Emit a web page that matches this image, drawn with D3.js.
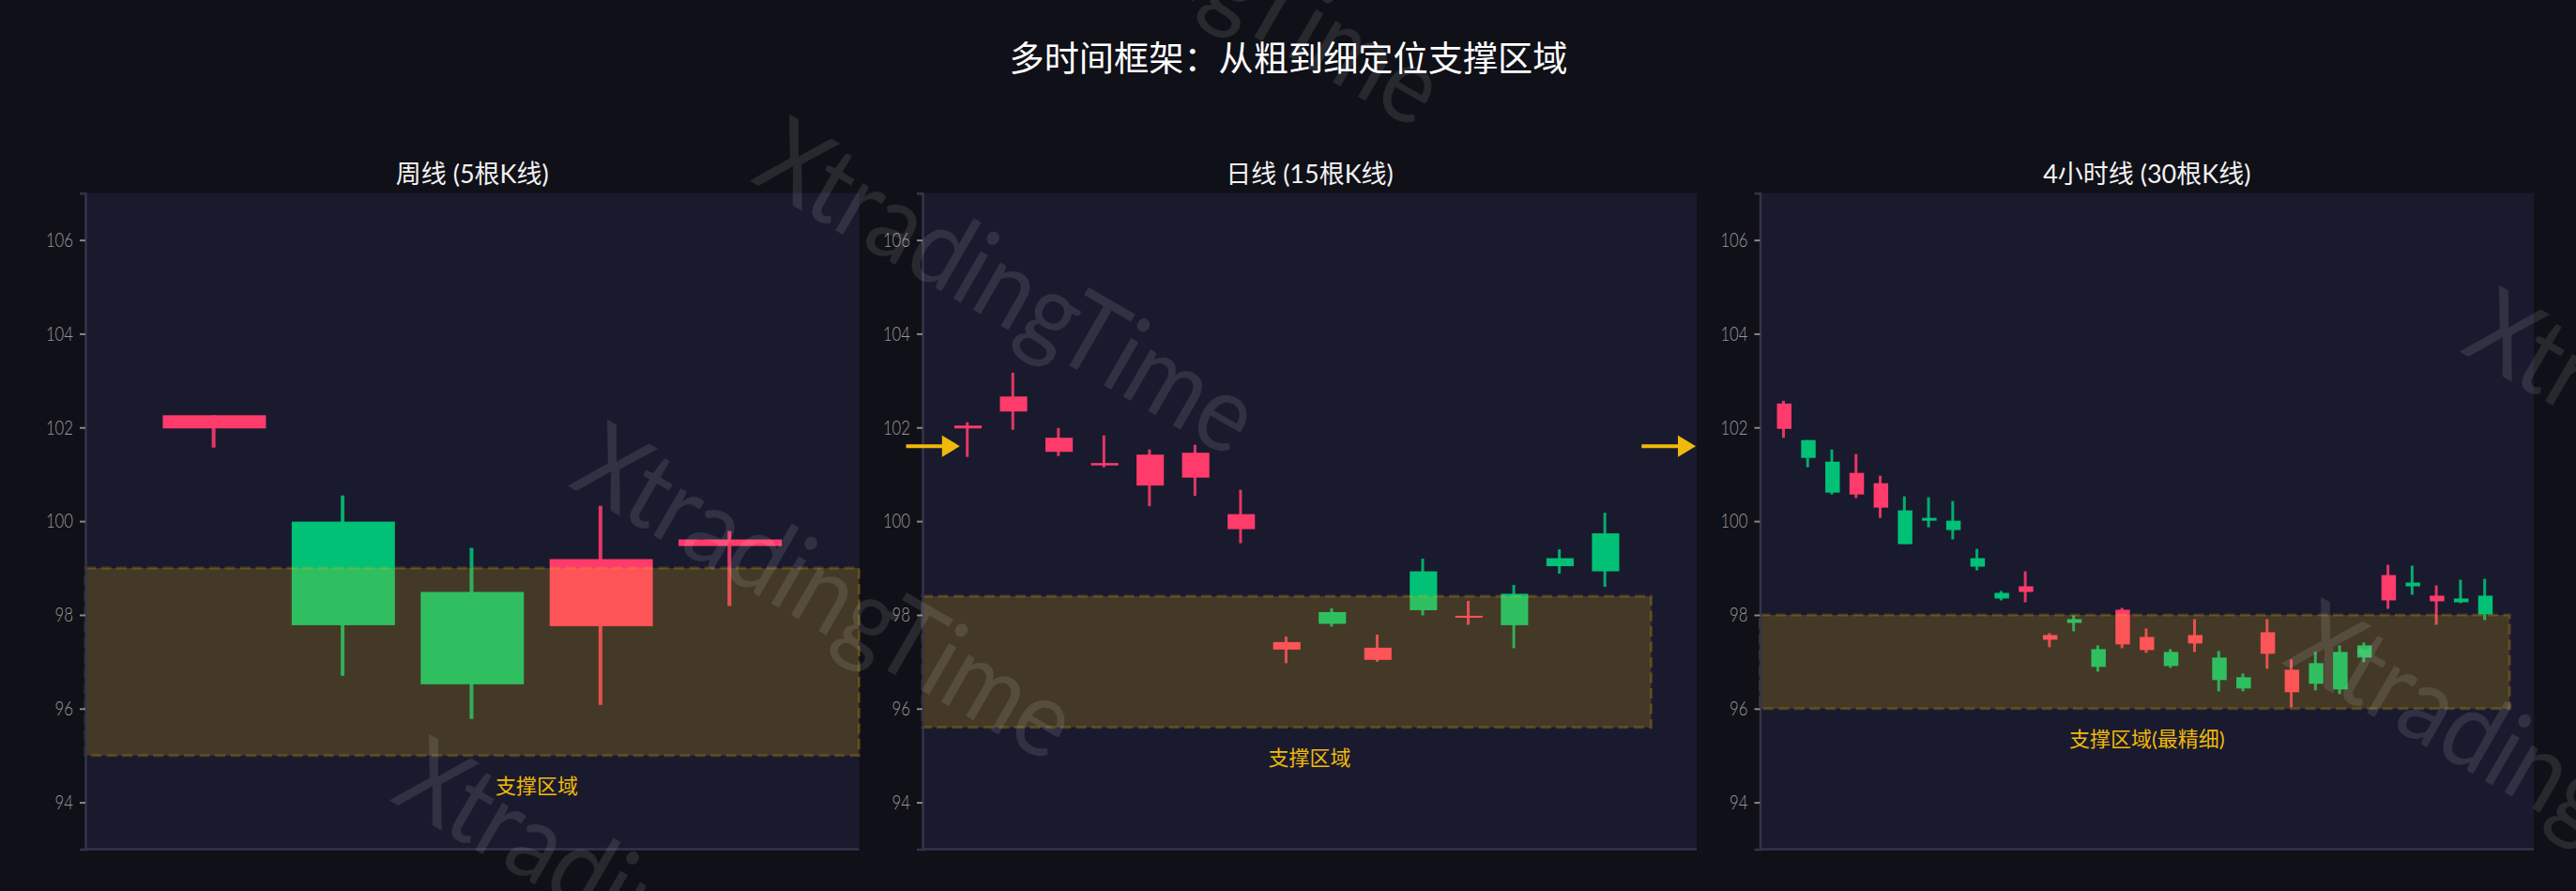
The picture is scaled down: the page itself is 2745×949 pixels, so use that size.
<!DOCTYPE html>
<html><head><meta charset="utf-8">
<script src="https://cdn.jsdelivr.net/npm/d3@7/dist/d3.min.js"></script>
<style>html,body{margin:0;padding:0;background:#101018;overflow:hidden}
text{font-family:"Lato","Noto Sans CJK SC",sans-serif}</style></head><body>
<script>
const mainTitle = "多时间框架：从粗到细定位支撑区域";
const panelTitles = ["周线 (5根K线)", "日线 (15根K线)", "4小时线 (30根K线)"];
const zoneLabels = ["支撑区域", "支撑区域", "支撑区域(最精细)"];
const yTicks = [94, 96, 98, 100, 102, 104, 106];
const yDomain = [93, 107];
const watermarkText = "XtradingTime";

const weeklyBodyTop = [102.26, 99.99, 98.49, 99.19, 99.61];
const weeklyBodyBot = [101.98, 97.78, 96.52, 97.76, 99.47];
const weeklyHigh = [102.26, 100.55, 99.43, 100.33, 99.79];
const weeklyLow = [101.57, 96.70, 95.78, 96.08, 98.19];
const weeklyDir = "ruurr";

const dailyBodyTop = [102.04, 102.66, 101.78, 101.24, 101.42, 101.46, 100.15, 97.42, 98.06, 97.30, 98.93, 97.98, 98.45, 99.21, 99.74];
const dailyBodyBot = [101.98, 102.34, 101.48, 101.19, 100.76, 100.93, 99.83, 97.26, 97.81, 97.04, 98.10, 97.94, 97.78, 99.04, 98.93];
const dailyHigh = [102.11, 103.17, 101.99, 101.83, 101.53, 101.63, 100.67, 97.54, 98.14, 97.58, 99.20, 98.30, 98.64, 99.40, 100.18];
const dailyLow = [101.37, 101.95, 101.39, 101.15, 100.32, 100.54, 99.53, 96.97, 97.75, 97.00, 97.99, 97.79, 97.29, 98.88, 98.60];
const dailyDir = "rrrrrrrrururuuu";

const h4BodyTop = [102.51, 101.73, 101.27, 101.03, 100.81, 100.23, 100.07, 100.01, 99.21, 98.47, 98.61, 97.57, 97.91, 97.27, 98.11, 97.53, 97.21, 97.57, 97.09, 96.67, 97.63, 96.83, 96.97, 97.21, 97.35, 98.85, 98.69, 98.41, 98.35, 98.41];
const h4BodyBot = [101.97, 101.35, 100.61, 100.57, 100.29, 99.51, 100.01, 99.81, 99.03, 98.35, 98.49, 97.47, 97.83, 96.89, 97.37, 97.25, 96.91, 97.39, 96.61, 96.43, 97.17, 96.35, 96.53, 96.41, 97.09, 98.31, 98.61, 98.29, 98.27, 98.01];
const h4High = [102.57, 101.73, 101.53, 101.43, 100.97, 100.53, 100.51, 100.43, 99.41, 98.51, 98.93, 97.61, 97.99, 97.35, 98.15, 97.71, 97.27, 97.91, 97.23, 96.75, 97.91, 97.05, 97.21, 97.35, 97.41, 99.07, 99.05, 98.63, 98.75, 98.77];
const h4Low = [101.78, 101.15, 100.57, 100.49, 100.07, 99.51, 99.87, 99.61, 98.95, 98.31, 98.27, 97.31, 97.65, 96.79, 97.29, 97.19, 96.87, 97.21, 96.37, 96.37, 96.85, 96.03, 96.39, 96.31, 96.99, 98.13, 98.43, 97.79, 98.25, 97.89];
const h4Dir = "ruurruuuuurruurruruurruuururuu";

const zoneLow = [95, 95.6, 96];
const zoneHigh = [99, 98.4, 98];
const zoneEnd = [5, 15, 30];
const xMax = [5, 16, 31];
const labelX = [2.5, 7.5, 15];
const candleWidth = [0.8, 0.6, 0.6];
const wickWidth = [4, 3, 3];
const panelDirs = [weeklyDir, dailyDir, h4Dir];
const panelTop = [weeklyBodyTop, dailyBodyTop, h4BodyTop];
const panelBot = [weeklyBodyBot, dailyBodyBot, h4BodyBot];
const panelHigh = [weeklyHigh, dailyHigh, h4High];
const panelLow = [weeklyLow, dailyLow, h4Low];

const panelLeft = [91, 983, 1875.5];
const panelRight = [915.5, 1808, 2700];
const plotTop = 205.7, plotBottom = 904.5;

const arrowTail = [-1.36, 14.79];
const arrowTip = [-0.18, 15.98];
const arrowPrice = 101.6;

const wmX = [798, 604, 414, 995, 2430, 2620];
const wmY = [192, 517, 852, -158, 706, 374];

const PINK = "#ff3b6b", GREEN = "#00c176", GOLD = "#f0b90b";
const svg = d3.select("body").append("svg").attr("width", 2745).attr("height", 949).style("display","block");
svg.append("rect").attr("width",2745).attr("height",949).attr("fill","#101018");

const y = d3.scaleLinear().domain(yDomain).range([plotBottom, plotTop]);

panelTitles.forEach((t, p) => {
  const x = d3.scaleLinear().domain([-1, xMax[p]]).range([panelLeft[p], panelRight[p]]);
  const g = svg.append("g");
  g.append("rect").attr("x",x(-1)).attr("y",plotTop).attr("width",x(xMax[p])-x(-1)).attr("height",plotBottom-plotTop).attr("fill","#1a1a2e");
  const n = panelTop[p].length, idx = d3.range(n);
  const col = i => panelDirs[p][i] === "u" ? GREEN : PINK;
  g.selectAll("line.w").data(idx).join("line").attr("class","w")
    .attr("x1",i=>x(i)-0.8).attr("x2",i=>x(i)-0.8)
    .attr("y1",i=>y(panelHigh[p][i])).attr("y2",i=>y(panelLow[p][i]))
    .attr("stroke",col).attr("stroke-opacity",0.88).attr("stroke-width",wickWidth[p]);
  const bw = x(candleWidth[p]) - x(0);
  g.selectAll("rect.b").data(idx).join("rect").attr("class","b")
    .attr("x",i=>x(i)-bw/2).attr("width",bw)
    .attr("y",i=>y(panelTop[p][i])).attr("height",i=>y(panelBot[p][i])-y(panelTop[p][i]))
    .attr("fill",col);
  g.append("rect").attr("x",x(-1)).attr("width",x(zoneEnd[p])-x(-1))
    .attr("y",y(zoneHigh[p])).attr("height",y(zoneLow[p])-y(zoneHigh[p]))
    .attr("fill",GOLD).attr("fill-opacity",0.2)
    .attr("stroke",GOLD).attr("stroke-opacity",0.22).attr("stroke-width",3).attr("stroke-dasharray","11,5.5");
  g.append("text").attr("x",x(labelX[p])).attr("y",y(zoneLow[p]-0.6)+1.5).attr("text-anchor","middle")
    .attr("dominant-baseline","central").attr("fill",GOLD).attr("font-size",22).text(zoneLabels[p]);
  const ax = d3.axisLeft(y).tickValues(yTicks).tickSize(6).tickPadding(7).tickFormat(d3.format("d"));
  const ag = g.append("g").attr("transform",`translate(${x(-1)},0)`).call(ax);
  ag.select(".domain").attr("stroke","#33334a").attr("stroke-width",2.5);
  ag.selectAll(".tick line").attr("stroke","#888").attr("stroke-width",2);
  ag.selectAll(".tick text").attr("fill","#9a9a9a").attr("font-size",21).attr("font-weight",300)
    .style("font-family","Lato,sans-serif")
    .attr("textLength",d=>String(d).length*9.7).attr("lengthAdjust","spacingAndGlyphs");
  g.append("line").attr("x1",x(-1)).attr("x2",x(xMax[p])).attr("y1",plotBottom).attr("y2",plotBottom)
    .attr("stroke","#33334a").attr("stroke-width",2.5);
  g.append("text").attr("x",(x(-1)+x(xMax[p]))/2).attr("y",184).attr("text-anchor","middle")
    .attr("dominant-baseline","central").attr("fill","#f2f2f2").attr("font-size",27).text(t);
  if (p === 1) {
    arrowTail.forEach((a,k) => {
      const yy = y(arrowPrice), tip = x(arrowTip[k]), tail = x(a);
      g.append("line").attr("x1",tail).attr("x2",tip-15).attr("y1",yy).attr("y2",yy).attr("stroke",GOLD).attr("stroke-width",4);
      g.append("path").attr("d",`M${tip},${yy}L${tip-19},${yy-11.5}L${tip-19},${yy+11.5}Z`).attr("fill",GOLD);
    });
  }
});

svg.append("text").attr("x",1373).attr("y",61).attr("text-anchor","middle").attr("dominant-baseline","central")
  .attr("fill","#fff").attr("font-size",37.2).text(mainTitle);

wmX.forEach((wx,i) => {
  svg.append("text").attr("transform",`translate(${wx},${wmY[i]}) rotate(30)`)
    .attr("fill","#fff").attr("fill-opacity",0.1).attr("font-size",115).attr("font-weight",400)
    .attr("textLength",592).attr("lengthAdjust","spacingAndGlyphs")
    .style("font-family","Lato,sans-serif").text(watermarkText);
});
</script></body></html>
